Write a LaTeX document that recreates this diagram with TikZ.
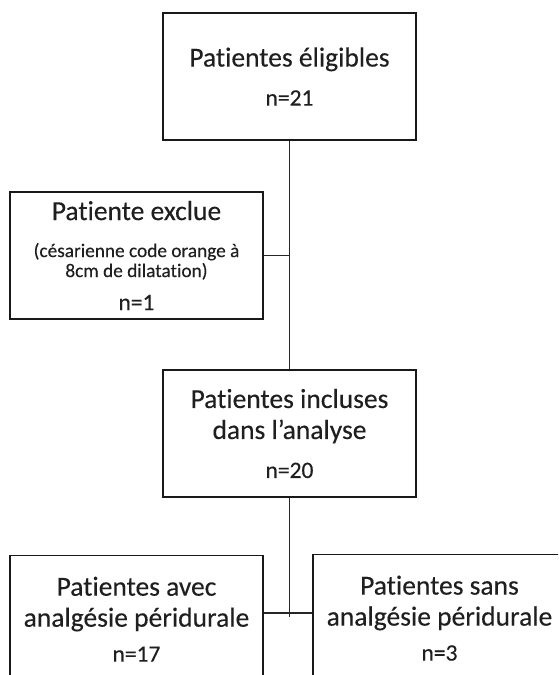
\documentclass[tikz,border=0pt]{standalone}
\usepackage{fontspec}
\setmainfont{Carlito}[Ligatures=NoCommon,FakeBold=0.3]
\usetikzlibrary{calc}
\newcommand{\titre}{\fontsize{27.5}{31}\selectfont}
\newcommand{\nval}{\fontsize{23.5}{28}\selectfont}
\newcommand{\petit}{\fontsize{19.3}{20}\selectfont}

\begin{document}
\begin{tikzpicture}[x=1pt,y=-1pt,
  boite/.style={draw=black!90,line width=1.4pt,text=black!88,
    minimum width=253pt,minimum height=127pt,inner sep=0pt,
    align=center,font=\titre},
  lien/.style={draw=black!85,line width=1.4pt}]
  \useasboundingbox (0,0) rectangle (558,675);
  \clip (0,0) rectangle (558,675);
  % boites
  \node[boite] (eligibles) at (289.5,76.5)
    {Patientes éligibles\\[8pt]{\nval n=21}};
  \node[boite] (exclue) at (136.5,255.5)
    {Patiente exclue\\[6pt]{\petit (césarienne code orange à}\\[-11pt]
     {\petit 8cm de dilatation)}\\[2pt]{\nval n=1}};
  \node[boite] (incluses) at (289.5,433.5)
    {Patientes incluses\\dans l’analyse\\[8pt]{\nval n=20}};
  \node[boite,anchor=north] (avec) at (136.5,555)
    {Patientes avec\\analgésie péridurale\\[4pt]{\nval n=17}};
  \node[boite,anchor=north] (sans) at (439.5,554)
    {Patientes sans\\analgésie péridurale\\[4pt]{\nval n=3}};
  \coordinate (fourche) at (289.5,613);
  \coordinate (pied) at (289.5,617);
  % liens
  \draw[lien] (eligibles.south) -- (incluses.north);
  \draw[lien] (exclue.east) -- (exclue.east -| eligibles.south);
  \draw[lien] (incluses.south) -- (incluses.south |- pied);
  \draw[lien] (avec.east |- fourche) -- (sans.west |- fourche);
\end{tikzpicture}
\end{document}
